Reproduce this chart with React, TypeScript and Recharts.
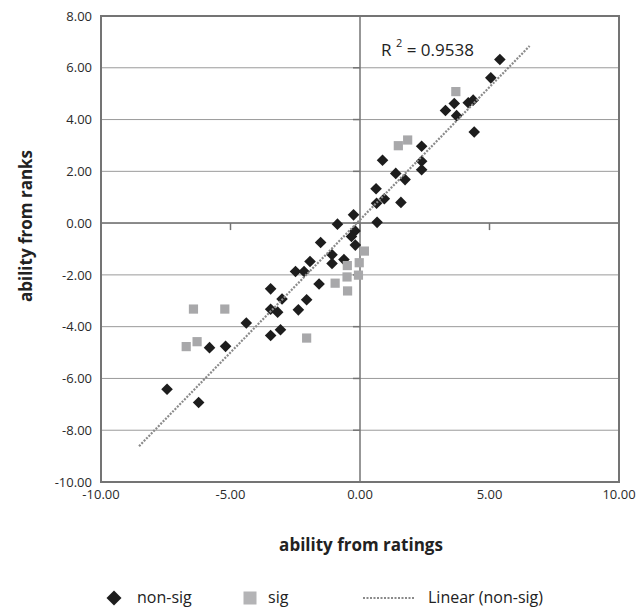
import { ScatterChart, Scatter, XAxis, YAxis, CartesianGrid, ReferenceLine, ReferenceArea, Customized } from 'recharts'

// ability estimates
const nonSigRatings = [5.4, 5.05, 3.64, 3.3, 3.73, 4.18, 4.37, 4.41, 2.38, 0.87, 2.38, 2.38, 1.38, 1.74, 0.62, 0.64, 0.94, 1.58, 0.66, -0.25, -0.87, -0.19, -0.33, -0.18, -1.52, -1.08, -1.08, -0.62, -1.93, -2.49, -2.16, -1.58, -3.45, -3.01, -2.06, -2.38, -3.45, -3.18, -4.39, -3.45, -3.07, -5.81, -5.19, -7.45, -6.23]
const nonSigRanks = [6.32, 5.61, 4.62, 4.35, 4.15, 4.65, 4.75, 3.52, 2.97, 2.43, 2.39, 2.06, 1.92, 1.68, 1.33, 0.77, 0.94, 0.8, 0.03, 0.32, -0.04, -0.3, -0.52, -0.85, -0.75, -1.22, -1.56, -1.41, -1.48, -1.87, -1.87, -2.35, -2.54, -2.93, -2.96, -3.35, -3.33, -3.44, -3.86, -4.34, -4.12, -4.81, -4.76, -6.42, -6.93]
const sigRatings = [3.7, 1.84, 1.48, 0.17, -0.03, -0.49, -0.5, -0.06, -0.96, -0.48, -2.06, -6.43, -5.22, -6.29, -6.71]
const sigRanks = [5.08, 3.21, 2.99, -1.08, -1.53, -1.64, -2.08, -2.01, -2.32, -2.62, -4.44, -3.32, -3.32, -4.58, -4.77]

const xTicks = [-10, -5, 0, 5, 10]
const yTicks = [-10, -8, -6, -4, -2, 0, 2, 4, 6, 8]
const r2Text = '0.9538'
// Excel-style trendline forecast (backward / forward)
const trendBackward = 1.08
const trendForward = 1.15

const nonSig = nonSigRatings.map((x, i) => ({ x, y: nonSigRanks[i] }))
const sig = sigRatings.map((x, i) => ({ x, y: sigRanks[i] }))

function linearFit(xs: number[], ys: number[]) {
  const n = xs.length
  const mx = xs.reduce((a, b) => a + b, 0) / n
  const my = ys.reduce((a, b) => a + b, 0) / n
  let sxy = 0
  let sxx = 0
  xs.forEach((x, i) => {
    sxy += (x - mx) * (ys[i] - my)
    sxx += (x - mx) * (x - mx)
  })
  const slope = sxy / sxx
  return { slope, intercept: my - slope * mx }
}

const fit = linearFit(nonSigRatings, nonSigRanks)
const trend = [Math.min(...nonSigRatings) - trendBackward, Math.max(...nonSigRatings) + trendForward].map((x) => ({
  x,
  y: fit.slope * x + fit.intercept,
}))

const FONT = '"Open Sans", sans-serif'
const AXIS = '#747474'

const Diamond = (p: any) => {
  const { cx, cy } = p
  const r = 5.8
  return <polygon points={`${cx},${cy - r} ${cx + r},${cy} ${cx},${cy + r} ${cx - r},${cy}`} fill="#1d1d1d" />
}

const Square = (p: any) => <rect x={p.cx - 4.6} y={p.cy - 4.6} width={9.2} height={9.2} fill="#a8a8aa" />

const Overlay = () => (
  <g fontFamily={FONT}>
    <text x={381} y={49} fontSize={17} fill="#222" dominantBaseline="central">
      R <tspan dy={-7} fontSize={11}>2</tspan>
      <tspan dy={7}> = {r2Text}</tspan>
    </text>
    <text x={361} y={544} fontSize={17} fontWeight={700} fill="#222" textAnchor="middle" dominantBaseline="central">
      ability from ratings
    </text>
    <text x={25} y={226} fontSize={17} fontWeight={700} fill="#222" textAnchor="middle" dominantBaseline="central" transform="rotate(-90, 25, 226)">
      ability from ranks
    </text>
    <g fontSize={16} fill="#222">
      <polygon points="114,590.5 121.5,598 114,605.5 106.5,598" fill="#1d1d1d" />
      <text x={137} y={597} dominantBaseline="central">non-sig</text>
      <rect x={243.5} y={591.5} width={13} height={13} fill="#b4b4b6" />
      <text x={268} y={597} dominantBaseline="central">sig</text>
      <line x1={363} y1={598} x2={415} y2={598} stroke="#8a8a8a" strokeWidth={2} strokeDasharray="2 1.5" />
      <text x={428} y={597} dominantBaseline="central">Linear (non-sig)</text>
    </g>
  </g>
)

export default function App() {
  return (
    <div style={{ position: 'absolute', left: 0, top: 0 }}>
      <ScatterChart width={639} height={611} margin={{ top: 16, right: 20, left: 0, bottom: 99 }}>
        <CartesianGrid vertical={false} stroke="#9a9a9a" />
        <XAxis
          type="number"
          dataKey="x"
          domain={[-10, 10]}
          ticks={xTicks}
          tickFormatter={(v: number) => v.toFixed(2)}
          axisLine={false}
          tickLine={false}
          tickSize={0}
          tickMargin={8}
          height={30}
          tick={{ fontFamily: FONT, fontSize: 13, fill: '#2a2a2a' }}
          allowDataOverflow
        />
        <YAxis
          type="number"
          dataKey="y"
          domain={[-10, 8]}
          ticks={yTicks}
          tickFormatter={(v: number) => v.toFixed(2)}
          axisLine={false}
          tickLine={false}
          tickSize={0}
          tickMargin={9}
          width={101}
          tick={{ fontFamily: FONT, fontSize: 13, fill: '#2a2a2a' }}
          allowDataOverflow
        />
        <ReferenceArea x1={-10} x2={10} y1={-10} y2={8} fill="none" stroke={AXIS} strokeWidth={2} />
        <ReferenceLine x={0} stroke={AXIS} strokeWidth={1.5} />
        <ReferenceLine y={0} stroke={AXIS} strokeWidth={1.5} />
        {yTicks.map((t) => (
          <ReferenceLine key={'yt' + t} segment={[{ x: -0.27, y: t }, { x: 0, y: t }]} stroke={AXIS} strokeWidth={1.5} />
        ))}
        {xTicks.map((t) => (
          <ReferenceLine key={'xt' + t} segment={[{ x: t, y: -0.27 }, { x: t, y: 0 }]} stroke={AXIS} strokeWidth={1.5} />
        ))}
        <Scatter name="non-sig" data={nonSig} shape={Diamond} isAnimationActive={false} />
        <Scatter name="sig" data={sig} shape={Square} isAnimationActive={false} />
        <Scatter
          name="Linear (non-sig)"
          data={trend}
          line={{ stroke: '#8a8a8a', strokeWidth: 2.2, strokeDasharray: '2 1.4' }}
          shape={() => null}
          isAnimationActive={false}
        />
        <Customized component={Overlay} />
      </ScatterChart>
    </div>
  )
}
